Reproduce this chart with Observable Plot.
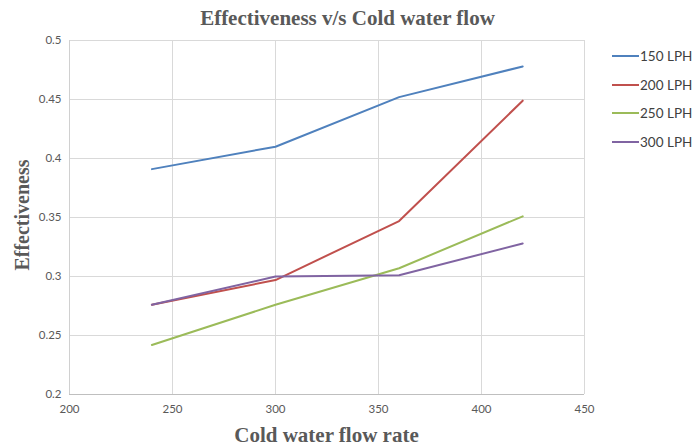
<!DOCTYPE html>
<html>
<head>
<meta charset="utf-8">
<script src="https://cdn.jsdelivr.net/npm/d3@7"></script>
<script src="https://cdn.jsdelivr.net/npm/@observablehq/plot@0.6"></script>
<style>
  html, body { margin: 0; padding: 0; background: #fff; }
  #wrap { position: relative; width: 695px; height: 448px; overflow: hidden; }
  #wrap svg { position: absolute; left: 0; top: 0; }
  .title { position: absolute; left: 0; width: 695px; text-align: center; top: 6px;
    font: bold 21px "Liberation Serif", serif; color: #595959; }
  .xlab { position: absolute; left: 69px; width: 515px; text-align: center; top: 423px;
    font: bold 21px "Liberation Serif", serif; color: #595959; }
  .ylab { position: absolute; left: 22px; top: 215px; transform: translate(-50%, -50%) rotate(-90deg);
    white-space: nowrap; font: bold 20px "Liberation Serif", serif; color: #595959; }
  .legend { position: absolute; left: 612px; top: 42px; font: 13.5px Lato, "Open Sans", sans-serif; color: #404040; }
  .legend .row { height: 28.5px; display: flex; align-items: center; }
  .legend .sw { width: 27px; height: 2px; margin-right: 1px; }
</style>
</head>
<body>
<div id="wrap"></div>
<script>
const flows = [240, 300, 360, 420];
const seriesNames = ["150 LPH", "200 LPH", "250 LPH", "300 LPH"];
const lph150 = [0.391, 0.410, 0.452, 0.478];
const lph200 = [0.276, 0.297, 0.347, 0.449];
const lph250 = [0.242, 0.276, 0.307, 0.351];
const lph300 = [0.276, 0.300, 0.301, 0.328];
const seriesColors = ["#4f81bd", "#c0504d", "#9bbb59", "#8064a2"];
const xTicks = [200, 250, 300, 350, 400, 450];
const yTicks = [0.2, 0.25, 0.3, 0.35, 0.4, 0.45, 0.5];
const yTickLabels = ["0.2", "0.25", "0.3", "0.35", "0.4", "0.45", "0.5"];
const titleText = "Effectiveness v/s Cold water flow";
const xLabel = "Cold water flow rate";
const yLabel = "Effectiveness";

const allValues = [lph150, lph200, lph250, lph300];
const rows = [];
seriesNames.forEach((s, i) => flows.forEach((f, j) => rows.push({series: s, flow: f, value: allValues[i][j]})));

const chart = Plot.plot({
  width: 695,
  height: 448,
  marginLeft: 69,
  marginRight: 111,
  marginTop: 40,
  marginBottom: 54,
  style: {fontFamily: "Lato, 'Open Sans', sans-serif", fontSize: "11.5px", color: "#595959", background: "white"},
  x: {domain: [200, 450], ticks: xTicks, label: null},
  y: {domain: [0.2, 0.5], ticks: yTicks, label: null},
  color: {domain: seriesNames, range: seriesColors},
  marks: [
    Plot.gridX(xTicks, {stroke: "#d9d9d9", strokeOpacity: 1}),
    Plot.gridY(yTicks, {stroke: "#d9d9d9", strokeOpacity: 1}),
    Plot.ruleY([0.2], {stroke: "#bfbfbf"}),
    Plot.ruleX([200], {stroke: "#d0d0d0"}),
    Plot.axisX(xTicks, {tickSize: 0, tickPadding: 10, fill: "#595959"}),
    Plot.axisY(yTicks, {tickSize: 0, tickPadding: 8, fill: "#595959",
      tickFormat: (d) => yTickLabels[yTicks.indexOf(d)]}),
    Plot.line(rows, {x: "flow", y: "value", z: "series", stroke: "series", strokeWidth: 2})
  ]
});

const wrap = document.getElementById("wrap");
wrap.appendChild(chart);

const t = document.createElement("div"); t.className = "title"; t.textContent = titleText; wrap.appendChild(t);
const xl = document.createElement("div"); xl.className = "xlab"; xl.textContent = xLabel; wrap.appendChild(xl);
const yl = document.createElement("div"); yl.className = "ylab"; yl.textContent = yLabel; wrap.appendChild(yl);

const lg = document.createElement("div"); lg.className = "legend";
seriesNames.forEach((s, i) => {
  const r = document.createElement("div"); r.className = "row";
  const sw = document.createElement("div"); sw.className = "sw"; sw.style.background = seriesColors[i];
  const tx = document.createElement("span"); tx.textContent = s;
  r.appendChild(sw); r.appendChild(tx); lg.appendChild(r);
});
wrap.appendChild(lg);
</script>
</body>
</html>
